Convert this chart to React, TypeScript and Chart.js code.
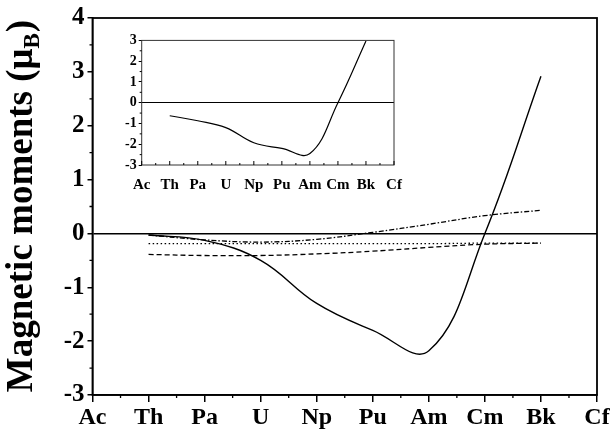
import React, { useEffect, useRef } from "react";
import { Chart, registerables } from "chart.js";

Chart.register(...registerables);

// ---------- data ----------
const elements = ["Ac", "Th", "Pa", "U", "Np", "Pu", "Am", "Cm", "Bk", "Cf"];
const seriesElements = ["Th", "Pa", "U", "Np", "Pu", "Am", "Cm", "Bk"];
const solidMoments = [-0.03, -0.13, -0.5, -1.3, -1.8, -2.18, 0.0, 2.92];
const dashDotMoments = [-0.03, -0.12, -0.16, -0.11, 0.02, 0.17, 0.33, 0.43];
const dottedMoments = [-0.19, -0.19, -0.19, -0.19, -0.19, -0.19, -0.18, -0.18];
const dashedMoments = [-0.39, -0.41, -0.41, -0.38, -0.33, -0.26, -0.2, -0.18];
const insetMoments = [-0.63, -0.87, -1.2, -1.93, -2.2, -2.45, 0.0, 2.97];
const mainYTicks = [-3, -2, -1, 0, 1, 2, 3, 4];
const insetYTicks = [-3, -2, -1, 0, 1, 2, 3];
const yTitleMain = "Magnetic moments (\u03bc";
const yTitleSub = "B";
const yTitleEnd = ")";

const FONT = '"Liberation Serif", "Times New Roman", serif';

function toPoints(values: number[]) {
  return seriesElements.map((el, i) => ({ x: elements.indexOf(el), y: values[i] }));
}

function midpoints(arr: number[]) {
  const out: number[] = [];
  for (let i = 0; i < arr.length - 1; i++) out.push((arr[i] + arr[i + 1]) / 2);
  return out;
}

type DecorCfg = {
  frameWidth: number;
  frameColor: string;
  tickWidth: number;
  yTicks: number[];
  xMajorLen: number;
  xMinorLen: number;
  xDir: number;
  yMinorLen: number;
  yDir: number;
  title?: { x: number; size: number };
};

function decorPlugin(cfg: DecorCfg) {
  return {
    id: "decor",
    afterDatasetsDraw(chart: any) {
      const { ctx, chartArea: a, scales } = chart;
      const xs = scales.x;
      const ys = scales.y;
      ctx.save();
      ctx.strokeStyle = cfg.frameColor;
      ctx.lineWidth = cfg.frameWidth;
      ctx.strokeRect(a.left, a.top, a.right - a.left, a.bottom - a.top);
      ctx.strokeStyle = "#000";
      ctx.lineWidth = cfg.tickWidth;
      ctx.beginPath();
      const xVals = elements.map((_, i) => i);
      if (cfg.xMajorLen > 0) {
        for (const v of xVals) {
          const px = xs.getPixelForValue(v);
          ctx.moveTo(px, a.bottom);
          ctx.lineTo(px, a.bottom + cfg.xDir * cfg.xMajorLen);
        }
      }
      for (const v of midpoints(xVals)) {
        const px = xs.getPixelForValue(v);
        ctx.moveTo(px, a.bottom);
        ctx.lineTo(px, a.bottom + cfg.xDir * cfg.xMinorLen);
      }
      for (const v of midpoints(cfg.yTicks)) {
        const py = ys.getPixelForValue(v);
        ctx.moveTo(a.left, py);
        ctx.lineTo(a.left - cfg.yDir * cfg.yMinorLen, py);
      }
      ctx.stroke();
      if (cfg.title) {
        const size = cfg.title.size;
        const big = `bold ${size}px ${FONT}`;
        const small = `bold ${Math.round(size * 0.62)}px ${FONT}`;
        ctx.fillStyle = "#000";
        ctx.translate(cfg.title.x, (a.top + a.bottom) / 2);
        ctx.rotate(-Math.PI / 2);
        ctx.textBaseline = "middle";
        ctx.textAlign = "left";
        ctx.font = big;
        const w1 = ctx.measureText(yTitleMain).width;
        const w3 = ctx.measureText(yTitleEnd).width;
        ctx.font = small;
        const w2 = ctx.measureText(yTitleSub).width;
        const x0 = -(w1 + w2 + w3) / 2;
        ctx.font = big;
        ctx.fillText(yTitleMain, x0, 0);
        ctx.font = small;
        ctx.fillText(yTitleSub, x0 + w1, size * 0.3);
        ctx.font = big;
        ctx.fillText(yTitleEnd, x0 + w1 + w2 + 1, 0);
      }
      ctx.restore();
    },
  };
}

function lineDataset(values: number[], dash: number[], width = 1.3) {
  return {
    data: toPoints(values),
    borderColor: "#000",
    borderWidth: width,
    borderDash: dash,
    pointRadius: 0,
    fill: false,
    tension: 0.4,
  };
}

export default function App() {
  const mainRef = useRef<HTMLCanvasElement | null>(null);
  const insetRef = useRef<HTMLCanvasElement | null>(null);

  useEffect(() => {
    if (!mainRef.current || !insetRef.current) return;

    const zeroColor = (c: any) => (c.tick && c.tick.value === 0 ? "#000" : "rgba(0,0,0,0)");

    const mainChart = new Chart(mainRef.current, {
      type: "line",
      data: {
        datasets: [
          lineDataset(solidMoments, [], 1.4),
          lineDataset(dashDotMoments, [5, 2, 1.5, 2]),
          lineDataset(dottedMoments, [1.5, 2.5]),
          lineDataset(dashedMoments, [5, 3]),
        ] as any,
      },
      options: {
        responsive: false,
        animation: false,
        layout: { padding: { top: 16.7, right: 17, left: 0, bottom: 0 } },
        plugins: { legend: { display: false }, tooltip: { enabled: false } },
        scales: {
          x: {
            type: "linear",
            min: 0,
            max: elements.length - 1,
            afterBuildTicks: (s: any) => {
              s.ticks = elements.map((_, i) => ({ value: i }));
            },
            afterFit: (s: any) => {
              s.height = 41;
            },
            ticks: {
              autoSkip: false,
              maxRotation: 0,
              padding: 1,
              color: "#000",
              font: { family: FONT, size: 24, weight: "bold" },
              callback: (v: any) => elements[v as number] ?? "",
            },
            grid: { display: true, drawOnChartArea: false, drawTicks: true, tickLength: 7, tickColor: "#000", lineWidth: 1.5 },
            border: { display: true, color: "#000", width: 1.5 },
          },
          y: {
            type: "linear",
            min: mainYTicks[0],
            max: mainYTicks[mainYTicks.length - 1],
            afterBuildTicks: (s: any) => {
              s.ticks = mainYTicks.map((v) => ({ value: v }));
            },
            afterFit: (s: any) => {
              s.width = 92.5;
            },
            ticks: {
              autoSkip: false,
              padding: 3,
              color: "#000",
              font: { family: FONT, size: 25, weight: "bold" },
              callback: (v: any) => String(v),
            },
            grid: {
              display: true,
              drawOnChartArea: true,
              drawTicks: true,
              tickLength: 5,
              color: zeroColor,
              tickColor: "#000",
              lineWidth: 1.5,
            },
            border: { display: true, color: "#000", width: 1.5 },
          },
        },
      } as any,
      plugins: [
        decorPlugin({
          frameWidth: 1.8,
          frameColor: "#000",
          tickWidth: 1.3,
          yTicks: mainYTicks,
          xMajorLen: 0,
          xMinorLen: 3,
          xDir: 1,
          yMinorLen: 3,
          yDir: 1,
          title: { x: 22, size: 37 },
        }) as any,
      ],
    });

    const insetChart = new Chart(insetRef.current, {
      type: "line",
      data: {
        datasets: [lineDataset(insetMoments, [], 1.2)] as any,
      },
      options: {
        responsive: false,
        animation: false,
        layout: { padding: { top: 8.3, right: 11, left: 0, bottom: 0 } },
        plugins: { legend: { display: false }, tooltip: { enabled: false } },
        scales: {
          x: {
            type: "linear",
            min: 0,
            max: elements.length - 1,
            afterBuildTicks: (s: any) => {
              s.ticks = elements.map((_, i) => ({ value: i }));
            },
            afterFit: (s: any) => {
              s.height = 30;
            },
            ticks: {
              autoSkip: false,
              maxRotation: 0,
              padding: 3,
              color: "#000",
              font: { family: FONT, size: 15, weight: "bold" },
              callback: (v: any) => elements[v as number] ?? "",
            },
            grid: { display: false },
            border: { display: false },
          },
          y: {
            type: "linear",
            min: insetYTicks[0],
            max: insetYTicks[insetYTicks.length - 1],
            afterBuildTicks: (s: any) => {
              s.ticks = insetYTicks.map((v) => ({ value: v }));
            },
            afterFit: (s: any) => {
              s.width = 36.7;
            },
            ticks: {
              autoSkip: false,
              padding: 2,
              color: "#000",
              font: { family: FONT, size: 14, weight: "bold" },
              callback: (v: any) => String(v),
            },
            grid: {
              display: true,
              drawOnChartArea: true,
              drawTicks: true,
              tickLength: 3,
              color: zeroColor,
              tickColor: "#000",
              lineWidth: 1,
            },
            border: { display: false },
          },
        },
      } as any,
      plugins: [
        decorPlugin({
          frameWidth: 1,
          frameColor: "#333",
          tickWidth: 1,
          yTicks: insetYTicks,
          xMajorLen: 4,
          xMinorLen: 2,
          xDir: -1,
          yMinorLen: 2,
          yDir: 1,
        }) as any,
      ],
    });

    return () => {
      mainChart.destroy();
      insetChart.destroy();
    };
  }, []);

  return (
    <div style={{ position: "absolute", left: 0, top: 0, width: 614, height: 436, background: "#fff" }}>
      <canvas ref={mainRef} width={614} height={436} style={{ position: "absolute", left: 0, top: 0, width: 614, height: 436 }} />
      <canvas ref={insetRef} width={300} height={165} style={{ position: "absolute", left: 105, top: 30, width: 300, height: 165 }} />
    </div>
  );
}
